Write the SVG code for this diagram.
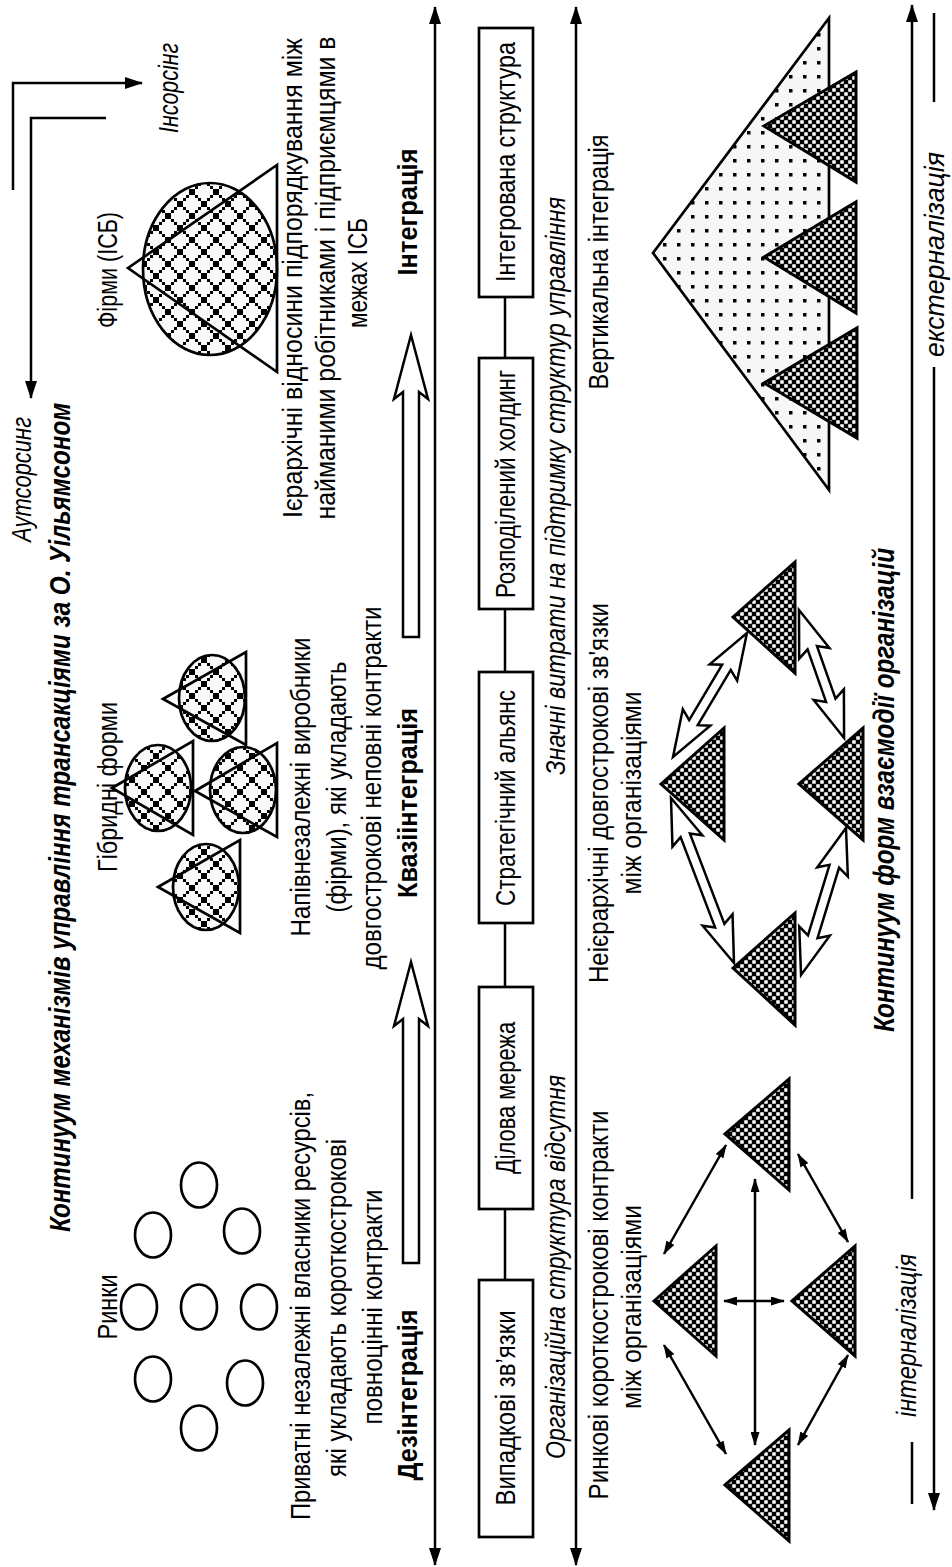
<svg xmlns="http://www.w3.org/2000/svg" width="952" height="1567" viewBox="0 0 952 1567">
<style>
.t{font-family:"Liberation Sans",Arial,sans-serif;font-size:28px;fill:#000;text-anchor:middle}
.i{font-style:italic}
.b{font-weight:bold}
.bi{font-weight:bold;font-style:italic;font-size:30px}
.ln{stroke:#000;stroke-width:2.5;fill:none}
.box{fill:#fff;stroke:#000;stroke-width:2.7}
.chk{fill:url(#chk);stroke:#000;stroke-width:3}
.ring{fill:none;stroke:#000;stroke-width:2.7}
.hatch{fill:url(#hatch);stroke:#000;stroke-width:2.7}
.tri{fill:none;stroke:#000;stroke-width:2.7}
.dot{fill:url(#dots);stroke:#000;stroke-width:2.7}
.hol{fill:#fff;stroke:#000;stroke-width:2.5;stroke-linejoin:miter}
</style>
<defs>
<marker id="ah" markerUnits="userSpaceOnUse" viewBox="0 0 18 12" markerWidth="18" markerHeight="12" refX="17" refY="6" orient="auto-start-reverse"><path d="M0,0 L18,6 L0,12 z" fill="#000"/></marker>
<marker id="ah2" markerUnits="userSpaceOnUse" viewBox="0 0 14 9" markerWidth="14" markerHeight="9" refX="13" refY="4.5" orient="auto-start-reverse"><path d="M0,0 L14,4.5 L0,9 z" fill="#000"/></marker>
<pattern id="chk" patternUnits="userSpaceOnUse" width="8" height="8"><rect width="8" height="8" fill="#000"/><rect x="0.25" y="0.25" width="3.5" height="3.5" fill="#fff"/><rect x="4.25" y="4.25" width="3.5" height="3.5" fill="#fff"/></pattern>
<pattern id="hatch" patternUnits="userSpaceOnUse" width="24" height="24"><rect width="24" height="24" fill="#f8f8f8"/><path fill="#000" d="M0 0h3v3h-3z M3 3h3v3h-3z M6 6h3v3h-3z M9 9h3v3h-3z M12 12h3v3h-3z M15 15h3v3h-3z M18 18h3v3h-3z M21 21h3v3h-3z M21 0h3v3h-3z M18 3h3v3h-3z M15 6h3v3h-3z M12 9h3v3h-3z M9 12h3v3h-3z M6 15h3v3h-3z M3 18h3v3h-3z M0 21h3v3h-3z"/></pattern>
<pattern id="dots" patternUnits="userSpaceOnUse" width="14" height="14"><rect width="14" height="14" fill="#f7f7f7"/><rect x="5" y="5" width="3.5" height="3.5" fill="#000"/></pattern>
</defs>
<rect width="952" height="1567" fill="#fff"/>

<g id="title">
<text class="t bi" transform="translate(70,817.5) rotate(-90) scale(0.82,1)" textLength="1011" lengthAdjust="spacingAndGlyphs">Континуум механізмів управління трансакціями за О. Уільямсоном</text>
</g>

<g id="connectors">
<path class="ln" d="M435,7 V1565" marker-start="url(#ah)" marker-end="url(#ah)"/>
<path class="ln" d="M576,7 V1565" marker-start="url(#ah)" marker-end="url(#ah)"/>
<path class="ln" d="M912,1199 V5" marker-end="url(#ah)"/>
<path class="ln" d="M912,1442 V1504"/>
<path class="ln" d="M934,367 V1510" marker-end="url(#ah)"/>
<path class="ln" d="M934,13 V102"/>
<path class="ln" d="M13,190 V83 H142" marker-end="url(#ah)"/>
<path class="ln" d="M106,118 H31 V398" marker-end="url(#ah)"/>
<path class="ln" d="M505,297 V358 M505,609 V672 M505,923 V987 M505,1209 V1280"/>
<polygon class="hol" points="411,962 428,1026 419,1019 419,1263 403,1263 403,1019 394,1026"/>
<polygon class="hol" points="411,335 428,399 419,392 419,637 403,637 403,392 394,399"/>
<path class="ln" d="M664,1254 L726,1145" marker-start="url(#ah2)" marker-end="url(#ah2)"/>
<path class="ln" d="M798,1154 L848,1242" marker-start="url(#ah2)" marker-end="url(#ah2)"/>
<path class="ln" d="M664,1345 L726,1454" marker-start="url(#ah2)" marker-end="url(#ah2)"/>
<path class="ln" d="M848,1355 L798,1445" marker-start="url(#ah2)" marker-end="url(#ah2)"/>
<path class="ln" d="M755,1179 V1445" marker-start="url(#ah2)" marker-end="url(#ah2)"/>
<path class="ln" d="M724,1301 H784" marker-start="url(#ah2)" marker-end="url(#ah2)"/>
<polygon class="hol" transform="translate(673,757) rotate(-59.2)" points="0,0 46,-16 40,-5 104.4,-5 98.4,-16 144.4,0 98.4,16 104.4,5 40,5 46,16"/>
<polygon class="hol" transform="translate(799,610) rotate(70.6)" points="0,0 46,-16 40,-5 95.7,-5 89.7,-16 135.7,0 89.7,16 95.7,5 40,5 46,16"/>
<polygon class="hol" transform="translate(671,798) rotate(69.1)" points="0,0 46,-16 40,-5 136.6,-5 130.6,-16 176.6,0 130.6,16 136.6,5 40,5 46,16"/>
<polygon class="hol" transform="translate(846,828) rotate(107)" points="0,0 46,-16 40,-5 113.7,-5 107.7,-16 153.7,0 107.7,16 113.7,5 40,5 46,16"/>
</g>

<g id="outsourcing">
<text class="t i" transform="translate(31,479.5) rotate(-90) scale(0.82,1)" textLength="152.4" lengthAdjust="spacingAndGlyphs">Аутсорсинг</text>
<text class="t i" transform="translate(178,88) rotate(-90) scale(0.82,1)" textLength="109.8" lengthAdjust="spacingAndGlyphs">Інсорсінг</text>
</g>

<g id="markets">
<ellipse class="ring" cx="199" cy="1185" rx="18" ry="22.5"/>
<ellipse class="ring" cx="153" cy="1235" rx="18" ry="22.5"/>
<ellipse class="ring" cx="242" cy="1231" rx="18" ry="22.5"/>
<ellipse class="ring" cx="139" cy="1307" rx="18" ry="22.5"/>
<ellipse class="ring" cx="199" cy="1307" rx="18" ry="22.5"/>
<ellipse class="ring" cx="259" cy="1307" rx="18" ry="22.5"/>
<ellipse class="ring" cx="153" cy="1379" rx="18" ry="22.5"/>
<ellipse class="ring" cx="245" cy="1383" rx="18" ry="22.5"/>
<ellipse class="ring" cx="199" cy="1428" rx="18" ry="22.5"/>
<text class="t" transform="translate(117,1307) rotate(-90) scale(0.82,1)" textLength="79.3" lengthAdjust="spacingAndGlyphs">Ринки</text>
<text class="t" transform="translate(310,1306) rotate(-90) scale(0.82,1)" textLength="522" lengthAdjust="spacingAndGlyphs">Приватні незалежні власники ресурсів,</text>
<text class="t" transform="translate(346,1308) rotate(-90) scale(0.82,1)" textLength="412.2" lengthAdjust="spacingAndGlyphs">які укладають короткострокові</text>
<text class="t" transform="translate(382,1307) rotate(-90) scale(0.82,1)" textLength="286.6" lengthAdjust="spacingAndGlyphs">повноцінні контракти</text>
<text class="t b" transform="translate(417,1395) rotate(-90) scale(0.82,1)" textLength="208.5" lengthAdjust="spacingAndGlyphs">Дезінтеграція</text>
</g>

<g id="hybrids">
<ellipse class="hatch" cx="212" cy="698" rx="33" ry="43"/>
<polygon class="tri" points="163,699 246,652 246,745"/>
<ellipse class="hatch" cx="158" cy="788" rx="33" ry="43"/>
<polygon class="tri" points="112,788 193,741 193,835"/>
<ellipse class="hatch" cx="243" cy="790" rx="33" ry="43"/>
<polygon class="tri" points="195,791 277,743 277,837"/>
<ellipse class="hatch" cx="206" cy="887" rx="33" ry="43"/>
<polygon class="tri" points="158,887 240,840 240,933"/>
<text class="t" transform="translate(117,787) rotate(-90) scale(0.82,1)" textLength="207.3" lengthAdjust="spacingAndGlyphs">Гібридні форми</text>
<text class="t" transform="translate(310,787) rotate(-90) scale(0.82,1)" textLength="364.6" lengthAdjust="spacingAndGlyphs">Напівнезалежні виробники</text>
<text class="t" transform="translate(346,787) rotate(-90) scale(0.82,1)" textLength="306.1" lengthAdjust="spacingAndGlyphs">(фірми), які укладають</text>
<text class="t" transform="translate(381,788) rotate(-90) scale(0.82,1)" textLength="442.7" lengthAdjust="spacingAndGlyphs">довгострокові неповні контракти</text>
<text class="t b" transform="translate(417,803) rotate(-90) scale(0.82,1)" textLength="231.7" lengthAdjust="spacingAndGlyphs">Квазіінтеграція</text>
</g>

<g id="firms">
<ellipse class="hatch" cx="210" cy="269" rx="67" ry="86"/>
<polygon class="tri" points="128,268 277,165 277,372"/>
<text class="t" transform="translate(117,270) rotate(-90) scale(0.82,1)" textLength="141.5" lengthAdjust="spacingAndGlyphs">Фірми (ІСБ)</text>
<text class="t" transform="translate(302,278) rotate(-90) scale(0.82,1)" textLength="585.4" lengthAdjust="spacingAndGlyphs">Ієрархічні відносини підпорядкування між</text>
<text class="t" transform="translate(335,278) rotate(-90) scale(0.82,1)" textLength="589" lengthAdjust="spacingAndGlyphs">найманими робітниками і підприємцями в</text>
<text class="t" transform="translate(367,273) rotate(-90) scale(0.82,1)" textLength="134.1" lengthAdjust="spacingAndGlyphs">межах ІСБ</text>
<text class="t b" transform="translate(417,212) rotate(-90) scale(0.82,1)" textLength="154.9" lengthAdjust="spacingAndGlyphs">Інтеграція</text>
</g>

<g id="box-vypadkovi">
<rect class="box" x="479" y="1280" width="54" height="257"/>
<text class="t" transform="translate(515,1408) rotate(-90) scale(0.82,1)" textLength="237.8" lengthAdjust="spacingAndGlyphs">Випадкові зв’язки</text>
</g>
<g id="box-dilova">
<rect class="box" x="479" y="987" width="54" height="222"/>
<text class="t" transform="translate(515,1098) rotate(-90) scale(0.82,1)" textLength="185.4" lengthAdjust="spacingAndGlyphs">Ділова мережа</text>
</g>
<g id="box-alians">
<rect class="box" x="479" y="672" width="54" height="251"/>
<text class="t" transform="translate(515,798) rotate(-90) scale(0.82,1)" textLength="263.4" lengthAdjust="spacingAndGlyphs">Стратегічний альянс</text>
</g>
<g id="box-holding">
<rect class="box" x="479" y="358" width="54" height="251"/>
<text class="t" transform="translate(515,484) rotate(-90) scale(0.82,1)" textLength="278" lengthAdjust="spacingAndGlyphs">Розподілений холдинг</text>
</g>
<g id="box-integr">
<rect class="box" x="479" y="28" width="54" height="269"/>
<text class="t" transform="translate(515,162) rotate(-90) scale(0.82,1)" textLength="292.7" lengthAdjust="spacingAndGlyphs">Інтегрована структура</text>
</g>

<g id="structure-labels">
<text class="t i" transform="translate(565,1267) rotate(-90) scale(0.82,1)" textLength="468.3" lengthAdjust="spacingAndGlyphs">Організаційна структура відсутня</text>
<text class="t i" transform="translate(565,486) rotate(-90) scale(0.82,1)" textLength="704.9" lengthAdjust="spacingAndGlyphs">Значні витрати на підтримку структур управління</text>
</g>

<g id="market-orgs">
<polygon class="chk" points="654,1301 716,1246 716,1356"/>
<polygon class="chk" points="792,1301 855,1246 855,1356"/>
<polygon class="chk" points="725,1134 789,1079 789,1190"/>
<polygon class="chk" points="725,1485 789,1430 789,1541"/>
<text class="t" transform="translate(608,1305) rotate(-90) scale(0.82,1)" textLength="474.4" lengthAdjust="spacingAndGlyphs">Ринкові короткострокові контракти</text>
<text class="t" transform="translate(641,1307) rotate(-90) scale(0.82,1)" textLength="248.8" lengthAdjust="spacingAndGlyphs">між організаціями</text>
</g>

<g id="network-orgs">
<polygon class="chk" points="661,784 724,728 724,840"/>
<polygon class="chk" points="799,784 863,728 863,840"/>
<polygon class="chk" points="733,617 795,562 795,673"/>
<polygon class="chk" points="733,968 795,913 795,1025"/>
<text class="t" transform="translate(608,793) rotate(-90) scale(0.82,1)" textLength="463.4" lengthAdjust="spacingAndGlyphs">Неієрархічні довгострокові зв'язки</text>
<text class="t" transform="translate(641,793) rotate(-90) scale(0.82,1)" textLength="247.6" lengthAdjust="spacingAndGlyphs">між організаціями</text>
</g>

<g id="vertical-integration">
<polygon class="dot" points="653,253 829,18 829,490"/>
<polygon class="chk" points="764,126 856,72 856,182"/>
<polygon class="chk" points="764,257 856,202 856,313"/>
<polygon class="chk" points="764,383 857,328 857,438"/>
<text class="t" transform="translate(608,262) rotate(-90) scale(0.82,1)" textLength="311" lengthAdjust="spacingAndGlyphs">Вертикальна інтеграція</text>
</g>

<g id="bottom-labels">
<text class="t bi" transform="translate(894,790) rotate(-90) scale(0.82,1)" textLength="590.2" lengthAdjust="spacingAndGlyphs">Континуум форм взаємодії організацій</text>
<text class="t i" transform="translate(916,1335.5) rotate(-90) scale(0.82,1)" textLength="198.8" lengthAdjust="spacingAndGlyphs">інтерналізація</text>
<text class="t i" transform="translate(944,254.5) rotate(-90) scale(0.82,1)" textLength="250" lengthAdjust="spacingAndGlyphs">екстерналізація</text>
</g>
</svg>
